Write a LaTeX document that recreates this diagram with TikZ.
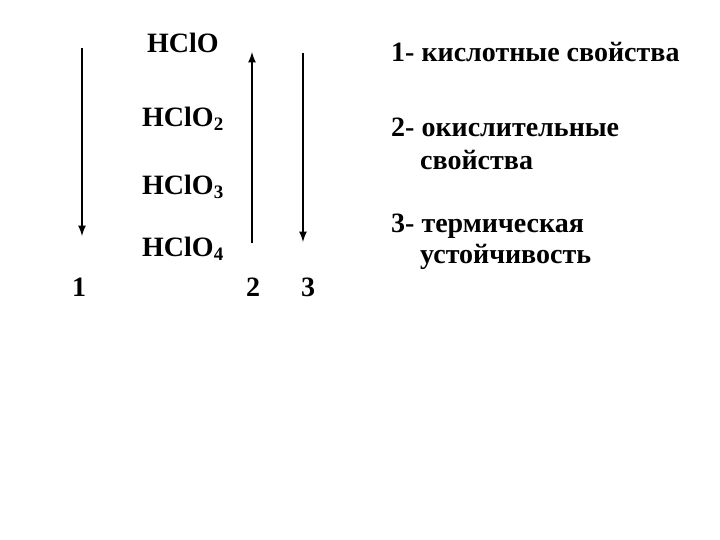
\documentclass[tikz,border=0pt]{standalone}
\usepackage{fontspec}
\setmainfont{Liberation Serif}
\usetikzlibrary{arrows}
\newcommand{\lowidx}[1]{\raisebox{-4pt}{\fontsize{19}{19}\selectfont #1}}
\tikzstyle{formula}=[
	anchor=base west,
	inner sep=0pt,
	font=\fontsize{28}{33}\bfseries
]
\tikzstyle{tnum}=[
	formula
]
\tikzstyle{trend}=[
	-latex,
	line width=2.5pt,
	draw=black
]

\begin{document}
\begin{tikzpicture}[x=1pt,y=-1pt]
\useasboundingbox (0,0) rectangle (720,540);
\node[formula] (a1) at (147,53) {HClO};
\node[formula] (a2) at (142,127) {HClO\lowidx{2}};
\node[formula] (a3) at (142,195) {HClO\lowidx{3}};
\node[formula] (a4) at (142,256) {HClO\lowidx{4}};

\node[tnum] (n1) at (72,296) {1};
\node[tnum] (n2) at (246,296) {2};
\node[tnum] (n3) at (301,296) {3};

\node[formula] (p1) at (391,62) {1- кислотные свойства};
\node[formula] (p2) at (391,137) {2- окислительные};
\node[formula] (p2b) at (420,170) {свойства};
\node[formula] (p3) at (391,233) {3- термическая};
\node[formula] (p3b) at (420,263) {устойчивость};

\coordinate (s1) at (82,48);
\coordinate (e1) at (82,236);
\coordinate (s2) at (252,243);
\coordinate (e2) at (252,52);
\coordinate (s3) at (303,53);
\coordinate (e3) at (303,242);

\draw[trend] (s1) to (e1);
\draw[trend] (s2) to (e2);
\draw[trend] (s3) to (e3);
\end{tikzpicture}
\end{document}
